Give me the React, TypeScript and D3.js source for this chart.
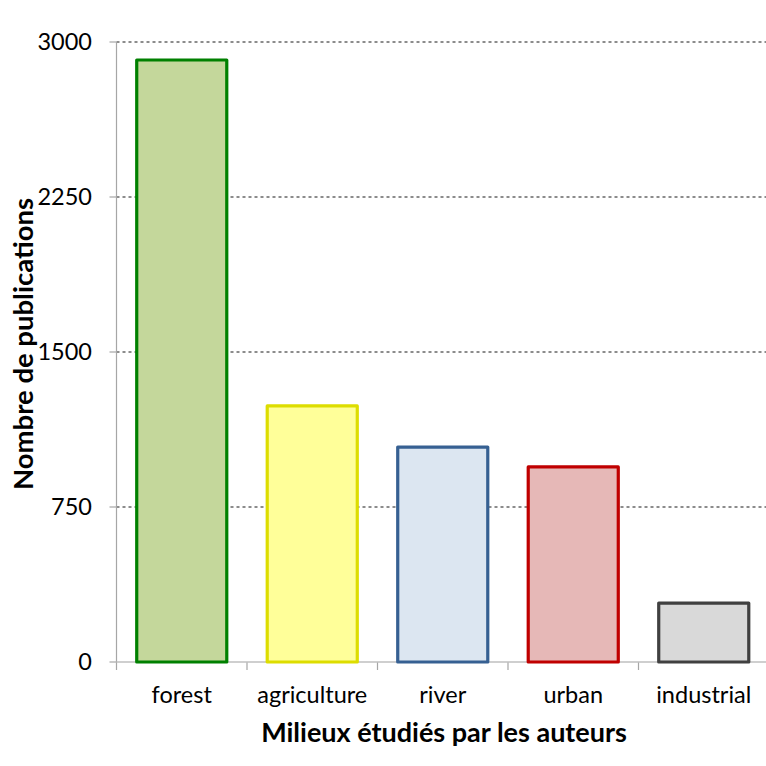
import React from "react";
import * as d3 from "d3";

const categories = ["forest", "agriculture", "river", "urban", "industrial"];
const publications = [2913, 1239, 1040, 944, 285];
const fills = ["#c4d79b", "#ffff99", "#dce6f1", "#e6b8b7", "#d9d9d9"];
const strokes = ["#008000", "#dddd00", "#366092", "#c00000", "#404040"];
const yTicks = [0, 750, 1500, 2250, 3000];
const yTitle = "Nombre de publications";
const xTitle = "Milieux étudiés par les auteurs";

const W = 766;
const H = 766;
const left = 116.5;
const right = 769;
const top = 42;
const bottom = 662;
const font = "Lato, 'Open Sans', sans-serif";

export default function App() {
  const x = d3.scaleBand<string>().domain(categories).range([left, right]).paddingInner(0.31).paddingOuter(0.155);
  const y = d3.scaleLinear().domain([0, 3000]).range([bottom, top]);
  const boundaries = d3.range(categories.length + 1).map((i) => left + i * x.step());

  return (
    <svg width={W} height={H} style={{ position: "absolute", left: 0, top: 0, background: "#fff" }} fontFamily={font}>
      {yTicks.filter((t) => t > 0).map((t) => (
        <line key={"g" + t} x1={left} x2={W} y1={y(t)} y2={y(t)} stroke="#8c8c8c" strokeWidth={2} strokeDasharray="3,3" />
      ))}
      {yTicks.map((t) => (
        <g key={"t" + t}>
          <line x1={left - 7} x2={left} y1={y(t)} y2={y(t)} stroke="#a6a6a6" strokeWidth={1.2} />
          <text x={left - 24.5} y={y(t)} dy="0.36em" textAnchor="end" fontSize={23.5} fill="#000">{t}</text>
        </g>
      ))}
      {boundaries.map((b, i) => (
        <line key={"xb" + i} x1={b} x2={b} y1={bottom} y2={bottom + 8} stroke="#a6a6a6" strokeWidth={1.2} />
      ))}
      <line x1={left} x2={left} y1={top} y2={bottom} stroke="#a6a6a6" strokeWidth={1.2} />
      <line x1={left} x2={W} y1={bottom} y2={bottom} stroke="#bfbfbf" strokeWidth={1.5} />
      {categories.map((c, i) => (
        <rect key={c} x={x(c)!} y={y(publications[i])} width={x.bandwidth()} height={bottom - y(publications[i])}
          fill={fills[i]} stroke={strokes[i]} strokeWidth={3.2} strokeLinejoin="round" />
      ))}
      {categories.map((c) => (
        <text key={"l" + c} x={x(c)! + x.bandwidth() / 2} y={703} textAnchor="middle" fontSize={23.5} fill="#000">{c}</text>
      ))}
      <text x={444} y={742} textAnchor="middle" fontSize={27} fontWeight="bold" fill="#000">{xTitle}</text>
      <text transform={`translate(33, 344) rotate(-90)`} textAnchor="middle" fontSize={27.5} fontWeight="bold" fill="#000">{yTitle}</text>
    </svg>
  );
}
